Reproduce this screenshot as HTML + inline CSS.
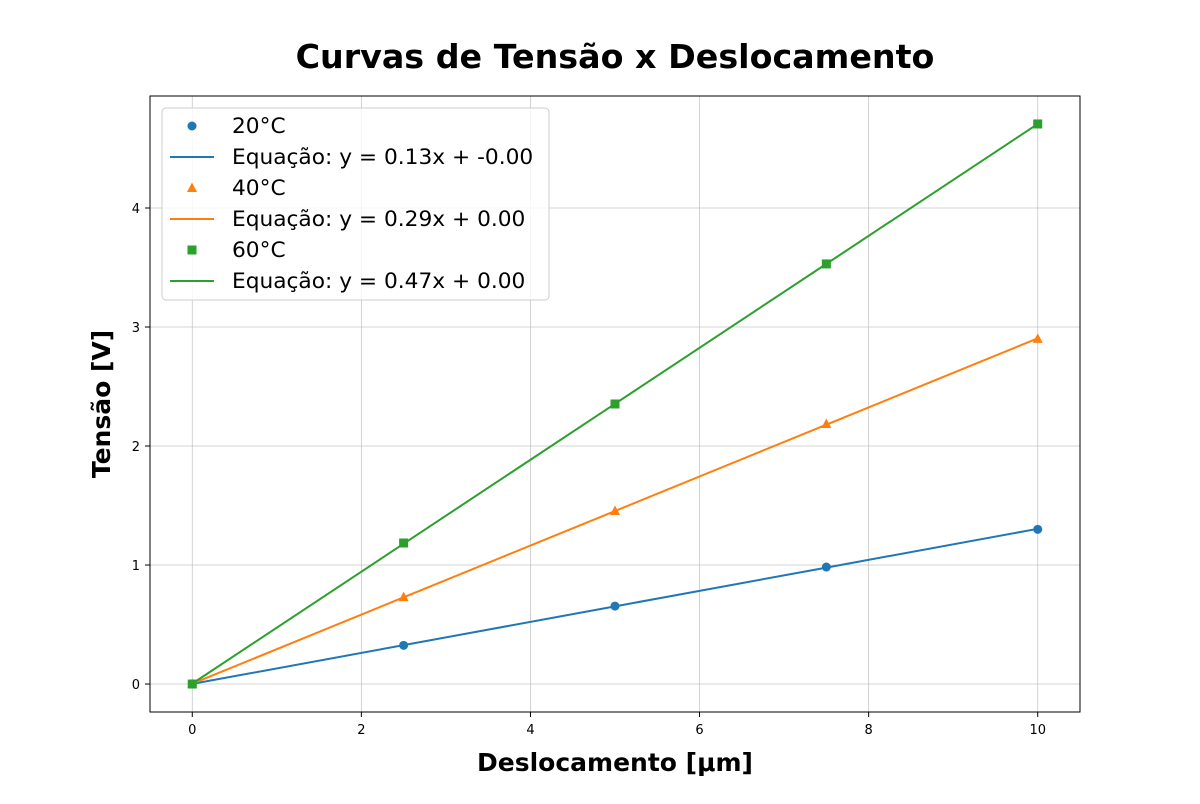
<!DOCTYPE html>
<html><head><meta charset="utf-8"><style>
body{margin:0;background:#fff;font-family:"DejaVu Sans","Liberation Sans",sans-serif}
svg text{font-family:"DejaVu Sans","Liberation Sans",sans-serif}
</style></head><body>
<svg id="chart" width="1200" height="800" xmlns="http://www.w3.org/2000/svg">
<rect width="1200" height="800" fill="#fff"/>
<text x="615" y="68" text-anchor="middle" font-size="33.3" font-weight="bold">Curvas de Tensão x Deslocamento</text>
<g id="grid"></g>
<g id="series"></g>
<rect x="150" y="96" width="930" height="616" fill="none" stroke="#000" stroke-width="1"/>
<g id="ticks"></g>
<text x="615" y="771" text-anchor="middle" font-size="25" font-weight="bold">Deslocamento [μm]</text>
<text transform="translate(110,404) rotate(-90)" text-anchor="middle" font-size="25" font-weight="bold">Tensão [V]</text>
<g id="legend"></g>
</svg>
<script>
const xValues=[0,2.5,5,7.5,10];
const series20=[0,0.325,0.655,0.983,1.30];
const series40=[0,0.73,1.454,2.185,2.90];
const series60=[0,1.185,2.353,3.53,4.706];
const seriesLabels=["20°C","40°C","60°C"];
const fitLabels=["Equação: y = 0.13x + -0.00","Equação: y = 0.29x + 0.00","Equação: y = 0.47x + 0.00"];
const xTicks=[0,2,4,6,8,10];
const yTicks=[0,1,2,3,4];
const colors=["#1f77b4","#ff7f0e","#2ca02c"];
const markers=["circle","triangle","square"];
const NS="http://www.w3.org/2000/svg";
const X0=150,X1=1080,Y0=712,Y1=96,xmin=-0.5,xmax=10.5,ymin=-0.235,ymax=4.941;
const sx=v=>X0+(v-xmin)/(xmax-xmin)*(X1-X0);
const sy=v=>Y0-(v-ymin)/(ymax-ymin)*(Y0-Y1);
function mk(tag,attrs,parent){const e=document.createElementNS(NS,tag);for(const k in attrs)e.setAttribute(k,attrs[k]);parent.appendChild(e);return e;}
const grid=document.getElementById('grid'),ticks=document.getElementById('ticks'),ser=document.getElementById('series'),leg=document.getElementById('legend');
xTicks.forEach(t=>{const x=sx(t);
 const g=mk('line',{x1:x,x2:x,y1:Y1,y2:Y0,stroke:'#b0b0b0','stroke-width':0.8,'stroke-opacity':0.7},grid);
 
 mk('line',{x1:x,x2:x,y1:Y0,y2:Y0+5,stroke:'#000'},ticks);
 const tx=mk('text',{x:x,y:Y0+22,'text-anchor':'middle','font-size':13},ticks);tx.textContent=t;
 });
yTicks.forEach(t=>{const y=sy(t);
 const g=mk('line',{x1:X0,x2:X1,y1:y,y2:y,stroke:'#b0b0b0','stroke-width':0.8,'stroke-opacity':0.7},grid);
 
 mk('line',{x1:X0-5,x2:X0,y1:y,y2:y,stroke:'#000'},ticks);
 const tx=mk('text',{x:X0-10,y:y+5,'text-anchor':'end','font-size':13},ticks);tx.textContent=t;
 });
function marker(type,x,y,c,parent,s){s=s||1;let e;
 if(type==='circle')e=mk('circle',{cx:x,cy:y,r:4.5*s,fill:c},parent);
 else if(type==='triangle')e=mk('polygon',{points:`${x},${y-5.5*s} ${x-5*s},${y+4*s} ${x+5*s},${y+4*s}`,fill:c},parent);
 else e=mk('rect',{x:x-4.5*s,y:y-4.5*s,width:9*s,height:9*s,fill:c},parent);
 return e;}
function fit(xs,ys){const n=xs.length,mx=xs.reduce((a,b)=>a+b)/n,my=ys.reduce((a,b)=>a+b)/n;let num=0,den=0;xs.forEach((x,i)=>{num+=(x-mx)*(ys[i]-my);den+=(x-mx)**2});const m=num/den;return[m,my-m*mx];}
[series20,series40,series60].forEach((ys,i)=>{const [m,b]=fit(xValues,ys);
 const pts=xValues.map(x=>sx(x)+','+sy(m*x+b)).join(' ');
 const l=mk('polyline',{points:pts,fill:'none',stroke:colors[i],'stroke-width':2},ser);
 
 ys.forEach((v,j)=>{const p=marker(markers[i],sx(xValues[j]),sy(v),colors[i],ser);
  });});
const lb=mk('rect',{x:162,y:108,width:387,height:192,rx:4,fill:'#fff','fill-opacity':0.8,stroke:'#ccc'},leg);

for(let i=0;i<3;i++){const y1=126+i*62,y2=y1+31;
 marker(markers[i],192,y1,colors[i],leg);
 const t1=mk('text',{x:232,y:y1+7,'font-size':21.7},leg);t1.textContent=seriesLabels[i];
 
 mk('line',{x1:170,x2:214,y1:y2,y2:y2,stroke:colors[i],'stroke-width':2},leg);
 const t2=mk('text',{x:232,y:y2+7,'font-size':21.7},leg);t2.textContent=fitLabels[i];
 }
</script>
</body></html>
